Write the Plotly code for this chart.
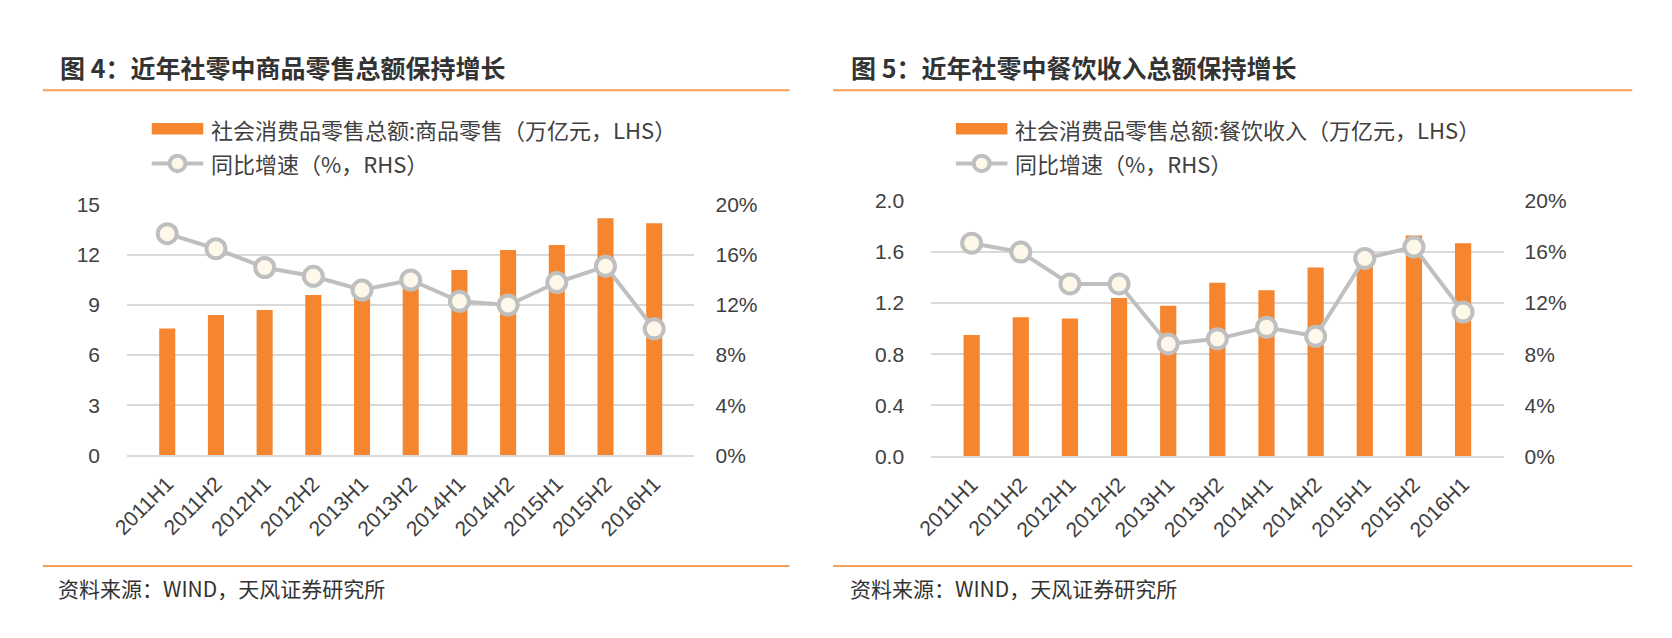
import plotly.graph_objects as go

# The page body adds an 8px margin, so the figure is drawn 8px in from the edge.
OFF = 8
W, H = 1672 - 2 * OFF, 638 - 2 * OFF

categories = ["2011H1", "2011H2", "2012H1", "2012H2", "2013H1", "2013H2",
              "2014H1", "2014H2", "2015H1", "2015H2", "2016H1"]

# Left chart: 商品零售 (万亿元) and YoY growth (%)
goods_sales = [7.6, 8.4, 8.7, 9.6, 10.0, 10.9, 11.1, 12.3, 12.6, 14.2, 13.9]
goods_growth = [17.7, 16.5, 15.0, 14.3, 13.2, 14.0, 12.3, 12.0, 13.8, 15.1, 10.1]

# Right chart: 餐饮收入 (万亿元) and YoY growth (%)
catering_sales = [0.95, 1.09, 1.08, 1.24, 1.18, 1.36, 1.30, 1.48, 1.52, 1.73, 1.67]
catering_growth = [16.7, 16.0, 13.5, 13.5, 8.8, 9.2, 10.1, 9.4, 15.5, 16.4, 11.3]

left_ticks = [0, 3, 6, 9, 12, 15]
left_ticktext = ["0", "3", "6", "9", "12", "15"]
right_ticks_a = [0, 0.4, 0.8, 1.2, 1.6, 2.0]
right_ticktext_a = ["0.0", "0.4", "0.8", "1.2", "1.6", "2.0"]
pct_ticks = [0, 4, 8, 12, 16, 20]
pct_ticktext = ["0%", "4%", "8%", "12%", "16%", "20%"]

titles = ["图 4：近年社零中商品零售总额保持增长", "图 5：近年社零中餐饮收入总额保持增长"]
legend_bar = ["社会消费品零售总额:商品零售（万亿元，LHS）", "社会消费品零售总额:餐饮收入（万亿元，LHS）"]
legend_line = "同比增速（%，RHS）"
source = "资料来源：WIND，天风证券研究所"

ORANGE = "#F5862F"
HEAD_ORANGE = "#F2A05C"
GRAY_LINE = "#BFBFBF"
MARKER_FILL = "#FDF8EA"
GRID = "#D9D9D9"
TXT = "#404040"
FONT = "Liberation Sans, Noto Sans CJK SC, sans-serif"
CJK = "Noto Sans CJK SC, Liberation Sans, sans-serif"


def px(x):
    return (x - OFF) / W


def py(y):
    return 1 - (y - OFF) / H


fig = go.Figure()

fig.add_trace(go.Bar(x=categories, y=goods_sales, xaxis="x", yaxis="y",
                     marker=dict(color=ORANGE, line=dict(width=0)), width=0.33,
                     showlegend=False))
fig.add_trace(go.Scatter(x=categories, y=goods_growth, xaxis="x", yaxis="y2",
                         mode="lines+markers",
                         line=dict(color=GRAY_LINE, width=4),
                         marker=dict(size=19, color=MARKER_FILL, line=dict(color=GRAY_LINE, width=4)),
                         showlegend=False))
fig.add_trace(go.Bar(x=categories, y=catering_sales, xaxis="x2", yaxis="y3",
                     marker=dict(color=ORANGE, line=dict(width=0)), width=0.33,
                     showlegend=False))
fig.add_trace(go.Scatter(x=categories, y=catering_growth, xaxis="x2", yaxis="y4",
                         mode="lines+markers",
                         line=dict(color=GRAY_LINE, width=4),
                         marker=dict(size=19, color=MARKER_FILL, line=dict(color=GRAY_LINE, width=4)),
                         showlegend=False))

xcommon = dict(type="category", tickangle=-45, showgrid=False, showline=True,
               linecolor=GRID, linewidth=2, ticks="", zeroline=False,
               tickfont=dict(family=FONT, size=21, color=TXT), ticklabelstandoff=6)
ycommon = dict(showline=False, ticks="", zeroline=False,
               tickfont=dict(family=FONT, size=21, color=TXT))

left_dom_y = [py(460), py(200)]
right_dom_y = [py(461), py(196)]

fig.update_layout(
    width=W, height=H,
    margin=dict(l=0, r=0, t=0, b=0),
    paper_bgcolor="white", plot_bgcolor="white",
    showlegend=False,
    xaxis=dict(domain=[px(112), px(685)], anchor="y", **xcommon),
    yaxis=dict(domain=left_dom_y, anchor="x", range=[0, 15], tickvals=left_ticks,
               ticktext=left_ticktext, showgrid=True, gridcolor=GRID, gridwidth=2,
               ticklabelstandoff=26, **ycommon),
    yaxis2=dict(domain=left_dom_y, anchor="x", overlaying="y", side="right", range=[0, 20],
                tickvals=pct_ticks, ticktext=pct_ticktext, showgrid=False,
                ticklabelstandoff=20, **ycommon),
    xaxis2=dict(domain=[px(924), px(1502)], anchor="y3", **xcommon),
    yaxis3=dict(domain=right_dom_y, anchor="x2", range=[0, 2.0], tickvals=right_ticks_a,
                ticktext=right_ticktext_a, showgrid=True, gridcolor=GRID, gridwidth=2,
                ticklabelstandoff=26, **ycommon),
    yaxis4=dict(domain=right_dom_y, anchor="x2", overlaying="y3", side="right", range=[0, 20],
                tickvals=pct_ticks, ticktext=pct_ticktext, showgrid=False,
                ticklabelstandoff=20, **ycommon),
)

shapes = []
annotations = []

panels = [
    dict(title_x=42, head=(27, 781), leg_x=137, src_x=40),
    dict(title_x=841, head=(825, 1632), leg_x=949, src_x=840),
]

for i, p in enumerate(panels):
    annotations.append(dict(text="<b>" + titles[i] + "</b>", x=px(p["title_x"]), y=py(57),
                            xref="paper", yref="paper", xanchor="left", yanchor="middle",
                            showarrow=False, font=dict(family=CJK, size=25, color="#333333")))
    for yy in (81, 575):
        shapes.append(dict(type="line", xref="paper", yref="paper",
                           x0=px(p["head"][0]), x1=px(p["head"][1]), y0=py(yy), y1=py(yy),
                           line=dict(color=HEAD_ORANGE, width=2)))
    lx = p["leg_x"]
    shapes.append(dict(type="rect", xref="paper", yref="paper",
                       x0=px(lx), x1=px(lx + 52), y0=py(127), y1=py(115),
                       fillcolor=ORANGE, line=dict(width=0)))
    annotations.append(dict(text=legend_bar[i], x=px(lx + 58), y=py(121),
                            xref="paper", yref="paper", xanchor="left", yanchor="middle",
                            showarrow=False, font=dict(family=CJK, size=22, color=TXT)))
    shapes.append(dict(type="line", xref="paper", yref="paper",
                       x0=px(lx), x1=px(lx + 52), y0=py(157), y1=py(157),
                       line=dict(color=GRAY_LINE, width=4)))
    shapes.append(dict(type="circle", xref="paper", yref="paper",
                       x0=px(lx + 26 - 8), x1=px(lx + 26 + 8), y0=py(165), y1=py(149),
                       fillcolor=MARKER_FILL, line=dict(color=GRAY_LINE, width=4)))
    annotations.append(dict(text=legend_line, x=px(lx + 58), y=py(157),
                            xref="paper", yref="paper", xanchor="left", yanchor="middle",
                            showarrow=False, font=dict(family=CJK, size=22, color=TXT)))
    annotations.append(dict(text=source, x=px(p["src_x"]), y=py(598),
                            xref="paper", yref="paper", xanchor="left", yanchor="middle",
                            showarrow=False, font=dict(family=CJK, size=21, color="#333333")))

fig.update_layout(shapes=shapes, annotations=annotations)

fig.write_html("out.html")
